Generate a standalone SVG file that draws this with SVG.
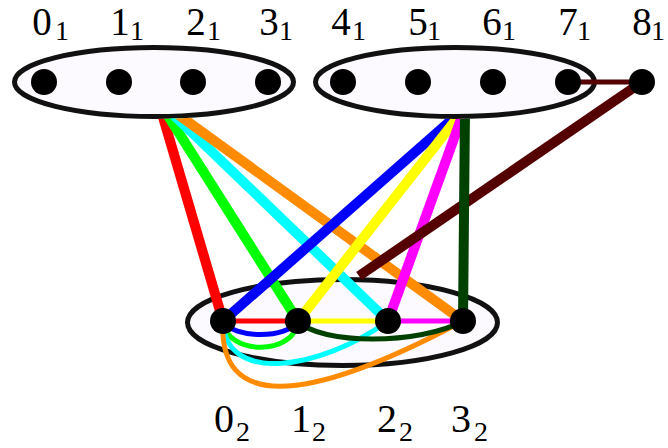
<svg xmlns="http://www.w3.org/2000/svg" width="668" height="448" viewBox="0 0 668 448">
<style>
.set{fill:#fcfaff;stroke:#111;stroke-width:5}
.v{fill:#000}
.e{fill:none;stroke-linecap:butt}
.thick{stroke-width:10}
.thin{stroke-width:5}
.lbl{font-family:"Liberation Serif","Times New Roman",serif;font-size:40px;fill:#000}
.top{font-size:39px}
.sub{font-size:28px}
</style>
<defs>
<clipPath id="outside"><path clip-rule="evenodd" d="M0 0H668V448H0Z M12 82a142 37 0 1 0 284 0a142 37 0 1 0 -284 0Z M313 82a142 37 0 1 0 284 0a142 37 0 1 0 -284 0Z"/></clipPath>
</defs>
<g id="set2"><ellipse class="set" cx="342.5" cy="322.5" rx="155" ry="43"/></g>
<g id="set1a"><ellipse class="set" cx="154" cy="82" rx="139.5" ry="34.5"/></g>
<g id="set1b"><ellipse class="set" cx="455" cy="82" rx="139.5" ry="34.5"/></g>
<g id="connectors">
<path class="e thin" stroke="#0000ff" d="M223 321C233 339 288 339 298 321"/>
<path class="e thin" stroke="#00ff00" d="M223 321C226 356 295 356 298 321"/>
<path class="e thin" stroke="#00ffff" d="M223 321C225 385 320 370 388 321"/>
<path class="e thin" stroke="#ff8c00" d="M223 321C218 408 300 408 463 321"/>
<path class="e thin" stroke="#004000" d="M298 321C320 345 420 345 463 321"/>
<path class="e thin" stroke="#ff0000" d="M223 321H298"/>
<path class="e thin" stroke="#ffff00" d="M298 321H388"/>
<path class="e thin" stroke="#ff00ff" d="M388 321H463"/>
<path class="e thin" stroke="#550000" d="M568 82H642"/>
<g clip-path="url(#outside)">
<path class="e thick" stroke="#ff0000" d="M158 100L223 321"/>
<path class="e thick" stroke="#00ff00" d="M158 100L298 321"/>
<path class="e thick" stroke="#00ffff" d="M158 100L388 321"/>
<path class="e thick" stroke="#ff8c00" d="M158 100L463 321"/>
<path class="e thick" stroke="#0000ff" d="M465 108L223 321"/>
<path class="e thick" stroke="#ffff00" d="M465 108L298 321"/>
<path class="e thick" stroke="#ff00ff" d="M465 108L388 321"/>
<path class="e thick" stroke="#550000" d="M642 82L359 276"/>
<path class="e thick" stroke="#004000" d="M465 108L463 321"/>
</g>
</g>
<g id="n0_1"><circle class="v" cx="44" cy="82" r="13"/><text class="lbl top" x="42" y="35" text-anchor="middle">0</text><text class="lbl sub" x="55" y="40">1</text></g>
<g id="n1_1"><circle class="v" cx="119" cy="82" r="13"/><text class="lbl top" x="120" y="35" text-anchor="middle">1</text><text class="lbl sub" x="130" y="40">1</text></g>
<g id="n2_1"><circle class="v" cx="193" cy="82" r="13"/><text class="lbl top" x="196" y="35" text-anchor="middle">2</text><text class="lbl sub" x="207" y="40">1</text></g>
<g id="n3_1"><circle class="v" cx="268" cy="82" r="13"/><text class="lbl top" x="269" y="35" text-anchor="middle">3</text><text class="lbl sub" x="279" y="40">1</text></g>
<g id="n4_1"><circle class="v" cx="343" cy="82" r="13"/><text class="lbl top" x="341" y="35" text-anchor="middle">4</text><text class="lbl sub" x="352" y="40">1</text></g>
<g id="n5_1"><circle class="v" cx="418" cy="82" r="13"/><text class="lbl top" x="418" y="35" text-anchor="middle">5</text><text class="lbl sub" x="427" y="40">1</text></g>
<g id="n6_1"><circle class="v" cx="493" cy="82" r="13"/><text class="lbl top" x="492" y="35" text-anchor="middle">6</text><text class="lbl sub" x="502" y="40">1</text></g>
<g id="n7_1"><circle class="v" cx="568" cy="82" r="13"/><text class="lbl top" x="568" y="35" text-anchor="middle">7</text><text class="lbl sub" x="577" y="40">1</text></g>
<g id="n8_1"><circle class="v" cx="642" cy="82" r="13"/><text class="lbl top" x="642" y="35" text-anchor="middle">8</text><text class="lbl sub" x="651" y="40">1</text></g>
<g id="n0_2"><circle class="v" cx="223" cy="321" r="13"/><text class="lbl" x="224" y="432" text-anchor="middle">0</text><text class="lbl sub" x="236" y="441">2</text></g>
<g id="n1_2"><circle class="v" cx="298" cy="321" r="13"/><text class="lbl" x="301" y="432" text-anchor="middle">1</text><text class="lbl sub" x="312" y="441">2</text></g>
<g id="n2_2"><circle class="v" cx="388" cy="321" r="13"/><text class="lbl" x="387" y="432" text-anchor="middle">2</text><text class="lbl sub" x="399" y="441">2</text></g>
<g id="n3_2"><circle class="v" cx="463" cy="321" r="13"/><text class="lbl" x="461" y="432" text-anchor="middle">3</text><text class="lbl sub" x="474" y="441">2</text></g>
</svg>
